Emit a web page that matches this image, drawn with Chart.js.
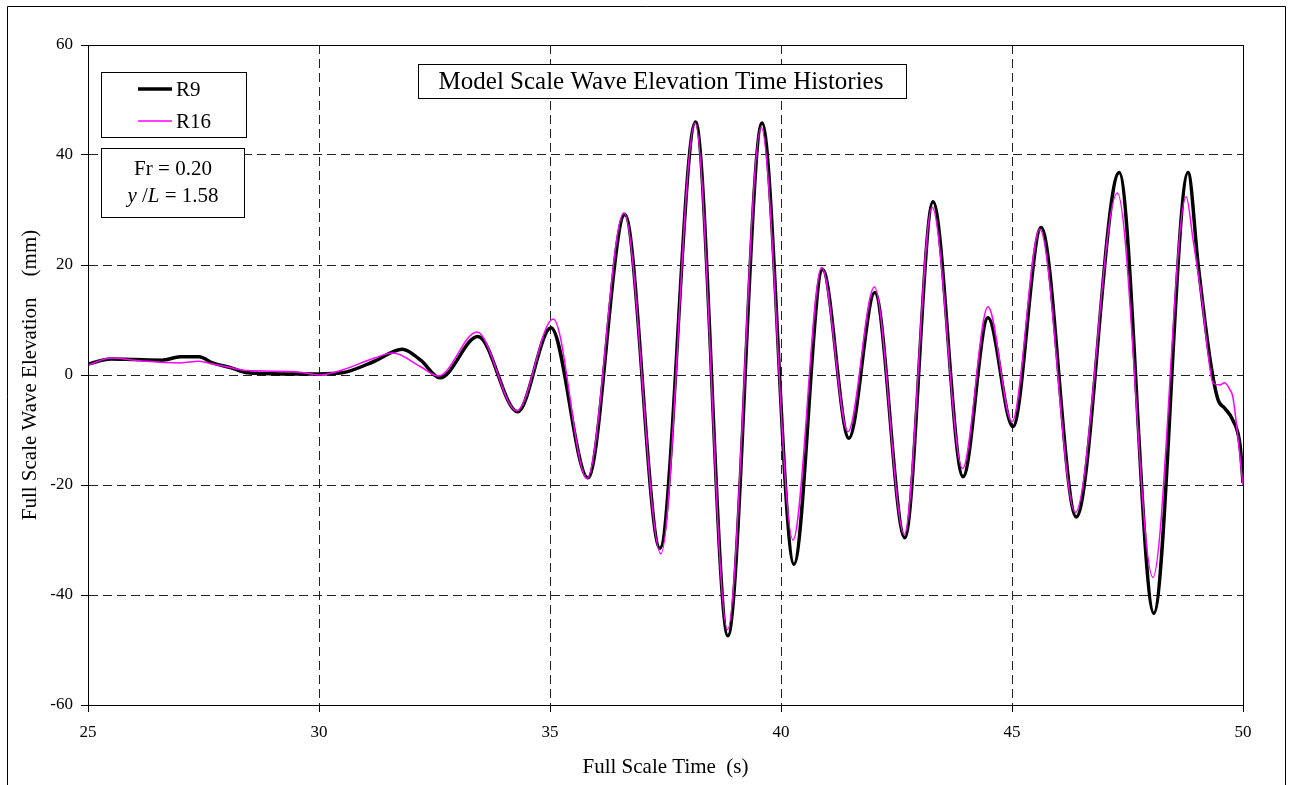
<!DOCTYPE html>
<html>
<head>
<meta charset="utf-8">
<title>Model Scale Wave Elevation Time Histories</title>
<script src="https://cdn.jsdelivr.net/npm/chart.js"></script>
<style>
  body { margin: 0; background: #fff; }
  canvas { display: block; }
</style>
</head>
<body>
<canvas id="waveChart" width="1292" height="785"></canvas>
<script>
// R9 run (thick black) - time (s) and elevation (mm)
const timeR9 = [25, 25.5, 26.0, 26.6, 27.0, 27.4, 27.7, 28.1, 28.45, 29.2, 30.0, 30.5, 31.2, 31.8, 32.2,
  32.62, 33.44, 34.3, 35.02, 35.82, 36.62, 37.38, 38.15, 38.85, 39.59, 40.28, 40.9, 41.47, 42.03,
  42.68, 43.29, 43.94, 44.48, 45.02, 45.63, 46.39, 47.32, 48.07, 48.81, 49.03, 49.29, 49.46, 49.6,
  49.78, 49.94, 50];
const elevR9 = [2.0, 2.9, 2.8, 2.7, 3.3, 3.3, 2.2, 1.3, 0.4, 0.2, 0.2, 0.4, 2.5, 4.7, 2.7,
  -0.5, 7.0, -6.7, 8.6, -18.7, 29.2, -31.5, 46.0, -47.4, 45.8, -34.4, 19.2, -11.5, 15.0,
  -29.6, 31.5, -18.5, 10.4, -9.4, 26.8, -25.8, 36.8, -43.3, 36.8, 20.0, 2.7, -4.5, -6.0,
  -8.2, -13.0, -19.6];

// R16 run (thin magenta)
const timeR16 = [25, 25.5, 26.1, 27.0, 27.4, 27.7, 28.1, 28.45, 29.5, 30.0, 30.5, 31.2, 31.6, 32.2,
  32.58, 33.42, 34.28, 35.07, 35.8, 36.6, 37.4, 38.14, 38.84, 39.57, 40.26, 40.88, 41.45, 42.02,
  42.67, 43.27, 43.93, 44.48, 45.0, 45.6, 46.37, 47.28, 48.05, 48.77, 48.92, 49.11, 49.24, 49.35,
  49.5, 49.6, 49.72, 49.78, 50];
const elevR16 = [1.8, 3.1, 2.6, 2.2, 2.5, 2.0, 1.3, 0.8, 0.6, 0.0, 0.9, 3.1, 4.0, 1.5,
  -0.2, 7.8, -6.5, 10.2, -18.8, 29.5, -32.5, 45.8, -46.3, 45.0, -30.0, 19.6, -10.3, 16.0,
  -29.0, 30.5, -17.0, 12.4, -8.5, 26.5, -25.0, 33.1, -36.8, 32.4, 24.5, 13.6, 4.0, -1.5,
  -1.8, -1.4, -2.7, -4.0, -20.0];

const seriesNames = ['R9', 'R16'];
const chartTitle = 'Model Scale Wave Elevation Time Histories';
const xTitle = 'Full Scale Time  (s)';
const yTitle = 'Full Scale Wave Elevation    (mm)';

const SERIF = '"Liberation Serif", "Times New Roman", serif';

function toPoints(xs, ys) {
  return xs.map((x, i) => ({ x: x, y: ys[i] }));
}

// draws outer frame, plot frame, title box, legend box and the Fr box
const decorPlugin = {
  id: 'decor',
  beforeDraw(chart) {
    const ctx = chart.ctx;
    ctx.save();
    ctx.fillStyle = '#fff';
    ctx.fillRect(0, 0, chart.width, chart.height);
    ctx.strokeStyle = '#000';
    ctx.lineWidth = 1;
    ctx.beginPath();
    ctx.moveTo(7.5, 800);
    ctx.lineTo(7.5, 6.5);
    ctx.lineTo(1285.5, 6.5);
    ctx.lineTo(1285.5, 800);
    ctx.stroke();
    ctx.restore();
  },
  afterDraw(chart) {
    const ctx = chart.ctx;
    const a = chart.chartArea;
    ctx.save();

    // plot frame
    ctx.strokeStyle = '#000';
    ctx.lineWidth = 1;
    ctx.strokeRect(Math.round(a.left) + 0.5, Math.round(a.top) + 0.5,
      Math.round(a.right - a.left), Math.round(a.bottom - a.top));

    const box = (x, y, w, h) => {
      ctx.fillStyle = '#fff';
      ctx.fillRect(x, y, w, h);
      ctx.strokeStyle = '#000';
      ctx.lineWidth = 1;
      ctx.strokeRect(x + 0.5, y + 0.5, w, h);
      ctx.fillStyle = '#000';
    };

    // title box
    box(418, 64, 488, 34);
    ctx.font = '25px ' + SERIF;
    ctx.textAlign = 'center';
    ctx.textBaseline = 'middle';
    ctx.fillText(chartTitle, 661, 82);

    // legend box
    box(101, 72, 145, 65);
    ctx.lineCap = 'butt';
    ctx.strokeStyle = '#000';
    ctx.lineWidth = 3.5;
    ctx.beginPath(); ctx.moveTo(138, 89); ctx.lineTo(172, 89); ctx.stroke();
    ctx.strokeStyle = '#ff00ff';
    ctx.lineWidth = 1.5;
    ctx.beginPath(); ctx.moveTo(138, 121); ctx.lineTo(172, 121); ctx.stroke();
    ctx.font = '21px ' + SERIF;
    ctx.textAlign = 'left';
    ctx.fillText(seriesNames[0], 176, 90);
    ctx.fillText(seriesNames[1], 176, 122);

    // Fr box
    box(101, 148, 143, 69);
    ctx.textAlign = 'center';
    ctx.fillText('Fr = 0.20', 173, 169);
    const parts = [['y', true], [' /', false], ['L', true], [' = 1.58', false]];
    let total = 0;
    parts.forEach(p => {
      ctx.font = (p[1] ? 'italic ' : '') + '21px ' + SERIF;
      total += ctx.measureText(p[0]).width;
    });
    let px = 173 - total / 2;
    ctx.textAlign = 'left';
    parts.forEach(p => {
      ctx.font = (p[1] ? 'italic ' : '') + '21px ' + SERIF;
      ctx.fillText(p[0], px, 196);
      px += ctx.measureText(p[0]).width;
    });

    ctx.restore();
  }
};

const ctx = document.getElementById('waveChart').getContext('2d');
new Chart(ctx, {
  type: 'line',
  data: {
    datasets: [
      {
        label: seriesNames[0],
        data: toPoints(timeR9, elevR9),
        borderColor: '#000',
        borderWidth: 3.5,
        pointRadius: 0,
        cubicInterpolationMode: 'monotone',
        fill: false,
        order: 1
      },
      {
        label: seriesNames[1],
        data: toPoints(timeR16, elevR16),
        borderColor: '#ff00ff',
        borderWidth: 1.5,
        pointRadius: 0,
        cubicInterpolationMode: 'monotone',
        fill: false,
        order: 0
      }
    ]
  },
  options: {
    responsive: false,
    animation: false,
    layout: { padding: { left: 0, top: 45, right: 49, bottom: 0 } },
    plugins: {
      legend: { display: false },
      tooltip: { enabled: false }
    },
    scales: {
      x: {
        type: 'linear',
        min: 25,
        max: 50,
        afterFit: s => { s.height = 80; },
        ticks: {
          stepSize: 5,
          color: '#000',
          padding: 10,
          maxRotation: 0,
          font: { family: SERIF, size: 17 }
        },
        grid: { color: '#222', lineWidth: 1, tickLength: 7, tickColor: '#000' },
        border: { color: '#000', width: 1, dash: [9, 5] },
        title: {
          display: true,
          text: xTitle,
          color: '#000',
          font: { family: SERIF, size: 21 },
          padding: { top: 0, bottom: 5 }
        }
      },
      y: {
        min: -60,
        max: 60,
        afterFit: s => { s.width = 88; },
        ticks: {
          stepSize: 20,
          color: '#000',
          padding: 8,
          font: { family: SERIF, size: 17 }
        },
        grid: { color: '#222', lineWidth: 1, tickLength: 7, tickColor: '#000' },
        border: { color: '#000', width: 1, dash: [9, 5] },
        title: {
          display: true,
          text: yTitle,
          color: '#000',
          font: { family: SERIF, size: 21 },
          padding: { top: 18, bottom: 0 }
        }
      }
    }
  },
  plugins: [decorPlugin]
});
</script>
</body>
</html>
